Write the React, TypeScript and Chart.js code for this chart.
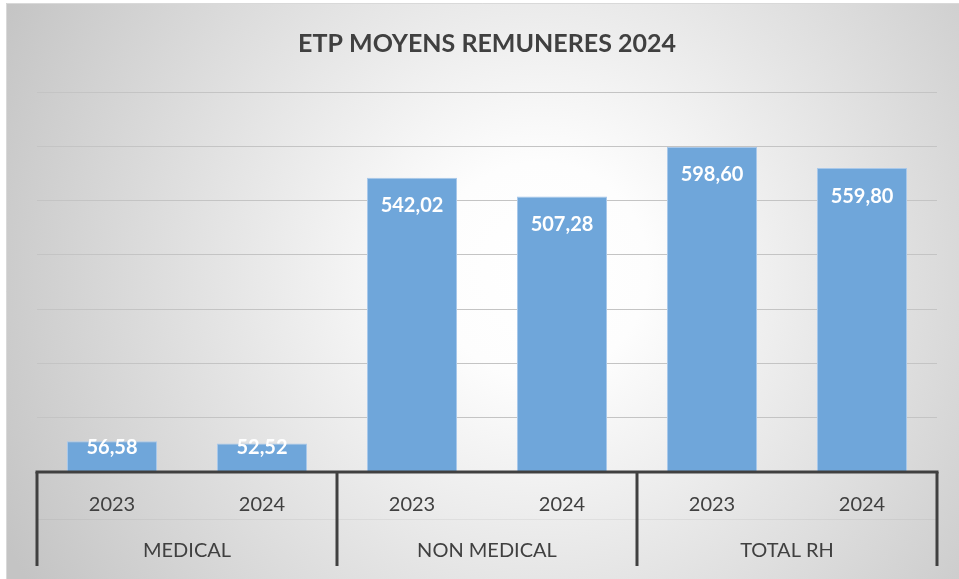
import React, { useEffect, useRef } from "react";
import { Chart, registerables } from "chart.js";

Chart.register(...registerables);

const chartTitle = "ETP MOYENS REMUNERES 2024";
const groups = ["MEDICAL", "NON MEDICAL", "TOTAL RH"];
const categories = ["2023", "2024", "2023", "2024", "2023", "2024"];
const values = [56.58, 52.52, 542.02, 507.28, 598.6, 559.8];
const yMin = 0;
const yMax = 700;
const yStep = 100;

const FONT = "Lato, 'Open Sans', sans-serif";
const TEXT = "#404040";

const fmt = (v: number) => v.toFixed(2).replace(".", ",");

const decorPlugin = {
  id: "decor",
  beforeDraw(chart: any) {
    const { ctx, width, height } = chart;
    ctx.save();
    ctx.fillStyle = "#ffffff";
    ctx.fillRect(0, 0, width, height);
    const g = ctx.createRadialGradient(540, 270, 0, 540, 270, 600);
    g.addColorStop(0, "#ffffff");
    g.addColorStop(0.18, "#fdfdfd");
    g.addColorStop(1, "#c4c4c4");
    ctx.fillStyle = g;
    ctx.fillRect(6, 3, width - 6, height - 3);
    ctx.strokeStyle = "#d9d9d9";
    ctx.lineWidth = 1;
    ctx.beginPath();
    ctx.moveTo(6.5, height);
    ctx.lineTo(6.5, 3.5);
    ctx.lineTo(width, 3.5);
    ctx.stroke();
    // title
    ctx.fillStyle = TEXT;
    ctx.font = `bold 25px ${FONT}`;
    ctx.textAlign = "center";
    ctx.textBaseline = "middle";
    const ca = chart.chartArea;
    ctx.fillText(chartTitle, (ca.left + ca.right) / 2, 44);
    ctx.restore();
  },
  afterDatasetsDraw(chart: any) {
    const { ctx } = chart;
    const meta = chart.getDatasetMeta(0);
    const ca = chart.chartArea;
    ctx.save();
    ctx.fillStyle = "#ffffff";
    ctx.font = `bold 20px ${FONT}`;
    ctx.textAlign = "center";
    ctx.textBaseline = "middle";
    meta.data.forEach((bar: any, i: number) => {
      const y = Math.min(bar.y + 28, ca.bottom - 24);
      ctx.fillText(fmt(values[i]), bar.x, y);
    });
    ctx.restore();
  },
  afterDraw(chart: any) {
    const { ctx } = chart;
    const x = chart.scales.x;
    const ca = chart.chartArea;
    const axisY = ca.bottom;
    const bottom = axisY + 94;
    ctx.save();
    // faint separator between rows
    ctx.strokeStyle = "rgba(128,128,128,0.12)";
    ctx.lineWidth = 1;
    ctx.beginPath();
    ctx.moveTo(ca.left, axisY + 47.5);
    ctx.lineTo(ca.right, axisY + 47.5);
    ctx.stroke();
    // axis line
    ctx.strokeStyle = TEXT;
    ctx.lineWidth = 3;
    ctx.beginPath();
    ctx.moveTo(ca.left - 1.5, axisY);
    ctx.lineTo(ca.right + 1.5, axisY);
    ctx.stroke();
    // group separators + labels
    const perGroup = categories.length / groups.length;
    const edges: number[] = [];
    for (let gi = 0; gi <= groups.length; gi++) {
      const idx = gi * perGroup;
      let px: number;
      if (idx === 0) px = x.left;
      else if (idx >= categories.length) px = x.right;
      else px = (x.getPixelForValue(idx - 1) + x.getPixelForValue(idx)) / 2;
      edges.push(px);
    }
    edges.forEach((px) => {
      ctx.beginPath();
      ctx.moveTo(px, axisY);
      ctx.lineTo(px, bottom);
      ctx.stroke();
    });
    ctx.fillStyle = TEXT;
    ctx.font = `20px ${FONT}`;
    ctx.textAlign = "center";
    ctx.textBaseline = "middle";
    groups.forEach((gname, gi) => {
      ctx.fillText(gname, (edges[gi] + edges[gi + 1]) / 2, axisY + 79);
    });
    ctx.restore();
  },
};

export default function App() {
  const ref = useRef<HTMLCanvasElement | null>(null);
  useEffect(() => {
    if (!ref.current) return;
    const chart = new Chart(ref.current, {
      type: "bar",
      data: {
        labels: categories,
        datasets: [
          {
            data: values,
            backgroundColor: "#6fa6da",
            borderColor: "#a8c8ea",
            borderWidth: 1,
            barPercentage: 0.6,
            categoryPercentage: 1,
          },
        ],
      },
      options: {
        animation: false,
        responsive: false,
        devicePixelRatio: 1,
        layout: { padding: { left: 37, right: 22, top: 92, bottom: 0 } },
        plugins: {
          legend: { display: false },
          title: { display: false },
          tooltip: { enabled: false },
        },
        scales: {
          x: {
            grid: { display: false, drawTicks: false },
            border: { display: false },
            ticks: {
              color: TEXT,
              font: { family: FONT, size: 20 },
              padding: 21,
              maxRotation: 0,
            },
            afterFit: (s: any) => {
              s.height = 107;
            },
          },
          y: {
            min: yMin,
            max: yMax,
            ticks: { display: false, stepSize: yStep },
            grid: { color: "#c4c4c4", lineWidth: 1, drawTicks: false },
            border: { display: false },
            afterFit: (s: any) => {
              s.width = 0;
            },
          },
        },
      },
      plugins: [decorPlugin],
    });
    return () => chart.destroy();
  }, []);
  return (
    <div style={{ position: "fixed", left: 0, top: 0, width: 959, height: 579 }}>
      <canvas ref={ref} width={959} height={579} style={{ display: "block" }} />
    </div>
  );
}
